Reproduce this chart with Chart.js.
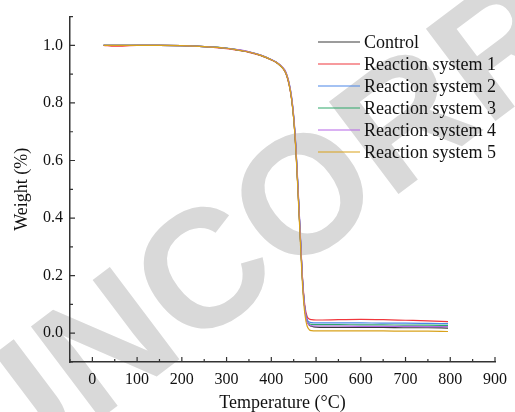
<!DOCTYPE html>
<html>
<head>
<meta charset="utf-8">
<script src="https://cdn.jsdelivr.net/npm/chart.js@4.4.1/dist/chart.umd.min.js"></script>
<style>
  html, body { margin: 0; padding: 0; background: #fff; }
  #wrap { width: 515px; height: 412px; }
</style>
</head>
<body>
<div id="wrap"><canvas id="mychart"></canvas></div>
<script>
// temperatures (°C) shared by all runs
const temps = [25, 50, 100, 150, 200, 250, 300, 325, 350, 375, 400, 410, 420, 430, 435, 440, 445, 450, 455, 460, 465, 470, 475, 480, 485, 490, 500, 550, 600, 650, 700, 750, 795];

const control = [1.0, 1.0, 1.0, 1.0, 0.999, 0.996, 0.990, 0.984, 0.977, 0.966, 0.950, 0.942, 0.930, 0.912, 0.893, 0.863, 0.818, 0.748, 0.638, 0.488, 0.328, 0.178, 0.084, 0.042, 0.028, 0.024, 0.021, 0.020, 0.020, 0.020, 0.019, 0.019, 0.018];
const rs1 = [1.0, 0.997, 1.0, 1.0, 0.999, 0.996, 0.989, 0.983, 0.976, 0.965, 0.949, 0.941, 0.929, 0.910, 0.891, 0.861, 0.816, 0.746, 0.636, 0.486, 0.330, 0.185, 0.095, 0.058, 0.049, 0.047, 0.046, 0.047, 0.048, 0.047, 0.045, 0.043, 0.040];
const rs2 = [1.0, 1.0, 1.0, 1.0, 0.999, 0.996, 0.991, 0.985, 0.978, 0.967, 0.951, 0.943, 0.931, 0.914, 0.896, 0.867, 0.823, 0.754, 0.645, 0.495, 0.335, 0.180, 0.086, 0.048, 0.039, 0.037, 0.036, 0.036, 0.036, 0.035, 0.035, 0.034, 0.033];
const rs3 = [1.0, 1.0, 1.0, 1.0, 0.999, 0.996, 0.990, 0.984, 0.977, 0.966, 0.950, 0.942, 0.930, 0.912, 0.894, 0.865, 0.820, 0.750, 0.641, 0.490, 0.330, 0.176, 0.082, 0.042, 0.033, 0.031, 0.030, 0.030, 0.029, 0.029, 0.028, 0.028, 0.027];
const rs4 = [1.0, 1.0, 1.0, 1.0, 0.999, 0.996, 0.990, 0.985, 0.978, 0.967, 0.951, 0.943, 0.932, 0.915, 0.897, 0.869, 0.826, 0.758, 0.650, 0.500, 0.340, 0.182, 0.084, 0.040, 0.029, 0.026, 0.025, 0.025, 0.024, 0.024, 0.024, 0.023, 0.023];
const rs5 = [1.0, 1.0, 1.0, 1.0, 0.999, 0.996, 0.990, 0.984, 0.977, 0.966, 0.950, 0.942, 0.930, 0.912, 0.894, 0.864, 0.818, 0.746, 0.632, 0.478, 0.315, 0.160, 0.066, 0.025, 0.012, 0.009, 0.008, 0.008, 0.008, 0.008, 0.007, 0.007, 0.006];

const seriesNames = ['Control', 'Reaction system 1', 'Reaction system 2', 'Reaction system 3', 'Reaction system 4', 'Reaction system 5'];
const seriesColors = ['#3a3a3a', '#f0363c', '#4a86e8', '#2ea86a', '#b565e8', '#d9a21b'];
// draw order: yellow ends up on top, like the reference
const drawOrder = [5, 4, 3, 2, 1, 0];

const xTicks = [0, 100, 200, 300, 400, 500, 600, 700, 800, 900];
const yTicks = [0.0, 0.2, 0.4, 0.6, 0.8, 1.0];

const serif = "'Liberation Serif', 'Times New Roman', serif";
const axisColor = '#333';

const allSeries = [control, rs1, rs2, rs3, rs4, rs5];
const data = {
    datasets: allSeries.map((arr, i) => ({
        label: seriesNames[i],
        data: arr.map((w, j) => ({ x: temps[j], y: w })),
        borderColor: seriesColors[i],
        backgroundColor: seriesColors[i],
        borderWidth: 1.2,
        pointRadius: 0,
        cubicInterpolationMode: 'monotone',
        order: drawOrder[i],
        fill: false
    }))
};

// faint proof watermark behind everything
const watermark = {
    id: 'watermark',
    beforeDraw(chart) {
        const c = chart.ctx;
        c.save();
        c.font = "bold 168px 'Liberation Sans', Arial, sans-serif";
        c.fillStyle = '#d9d9d9';
        c.textBaseline = 'middle';
        c.translate(112, 352);
        c.rotate(-37 * Math.PI / 180);
        const off = c.measureText('U').width + c.measureText('N').width / 2;
        c.fillText('UNCORRECTED PROOF', -off, 0);
        c.restore();
    }
};

// inward major + minor ticks like Origin
const innerTicks = {
    id: 'innerTicks',
    afterDraw(chart) {
        const c = chart.ctx;
        const xs = chart.scales.x, ys = chart.scales.y;
        const area = chart.chartArea;
        c.save();
        c.strokeStyle = axisColor;
        c.lineWidth = 1.2;
        c.beginPath();
        for (let v = -50; v <= 900; v += 50) {
            const px = xs.getPixelForValue(v);
            const len = (v % 100 === 0) ? 5 : 3;
            c.moveTo(px, area.bottom);
            c.lineTo(px, area.bottom - len);
        }
        for (let v = -0.1; v <= 1.1001; v += 0.1) {
            const py = ys.getPixelForValue(v);
            const major = Math.abs(Math.round(v * 10) % 2) === 0;
            c.moveTo(area.left, py);
            c.lineTo(area.left + (major ? 5 : 3), py);
        }
        c.stroke();
        c.restore();
    }
};

// legend drawn inside the plot area
const insideLegend = {
    id: 'insideLegend',
    afterDraw(chart) {
        const c = chart.ctx;
        c.save();
        c.font = '18px ' + serif;
        c.textBaseline = 'middle';
        chart.data.datasets.forEach((ds, i) => {
            const y = 42 + i * 22;
            c.strokeStyle = ds.borderColor;
            c.lineWidth = 1.2;
            c.beginPath();
            c.moveTo(318, y);
            c.lineTo(360, y);
            c.stroke();
            c.fillStyle = '#111';
            c.fillText(ds.label, 364, y + 1);
        });
        c.restore();
    }
};

const ctx = document.getElementById('mychart');

new Chart(ctx, {
    type: 'line',
    data: data,
    options: {
        responsive: true,
        maintainAspectRatio: false,
        animation: false,
        layout: { padding: { top: 14, right: 15, left: 0, bottom: 0 } },
        plugins: {
            legend: { display: false },
            tooltip: { enabled: false }
        },
        scales: {
            x: {
                type: 'linear',
                min: -50,
                max: 900,
                afterBuildTicks: (s) => { s.ticks = xTicks.map(v => ({ value: v })); },
                afterFit: (s) => { s.height = 50; },
                grid: { display: false, drawTicks: false },
                border: { display: true, color: axisColor, width: 1.5 },
                ticks: { color: '#111', padding: 8, font: { family: serif, size: 16 }, maxRotation: 0 },
                title: { display: true, text: 'Temperature (°C)', color: '#111', padding: { top: 0, bottom: -2 }, font: { family: serif, size: 18 } }
            },
            y: {
                min: -0.1,
                max: 1.1,
                afterBuildTicks: (s) => { s.ticks = yTicks.map(v => ({ value: v })); },
                afterFit: (s) => { s.width = 70; },
                grid: { display: false, drawTicks: false },
                border: { display: true, color: axisColor, width: 1.5 },
                ticks: { color: '#111', padding: 7, font: { family: serif, size: 16 }, callback: (v) => v.toFixed(1) },
                title: { display: true, text: 'Weight (%)', color: '#111', padding: { top: 11, bottom: 0 }, font: { family: serif, size: 18 } }
            }
        }
    },
    plugins: [watermark, innerTicks, insideLegend]
});
</script>
</body>
</html>
